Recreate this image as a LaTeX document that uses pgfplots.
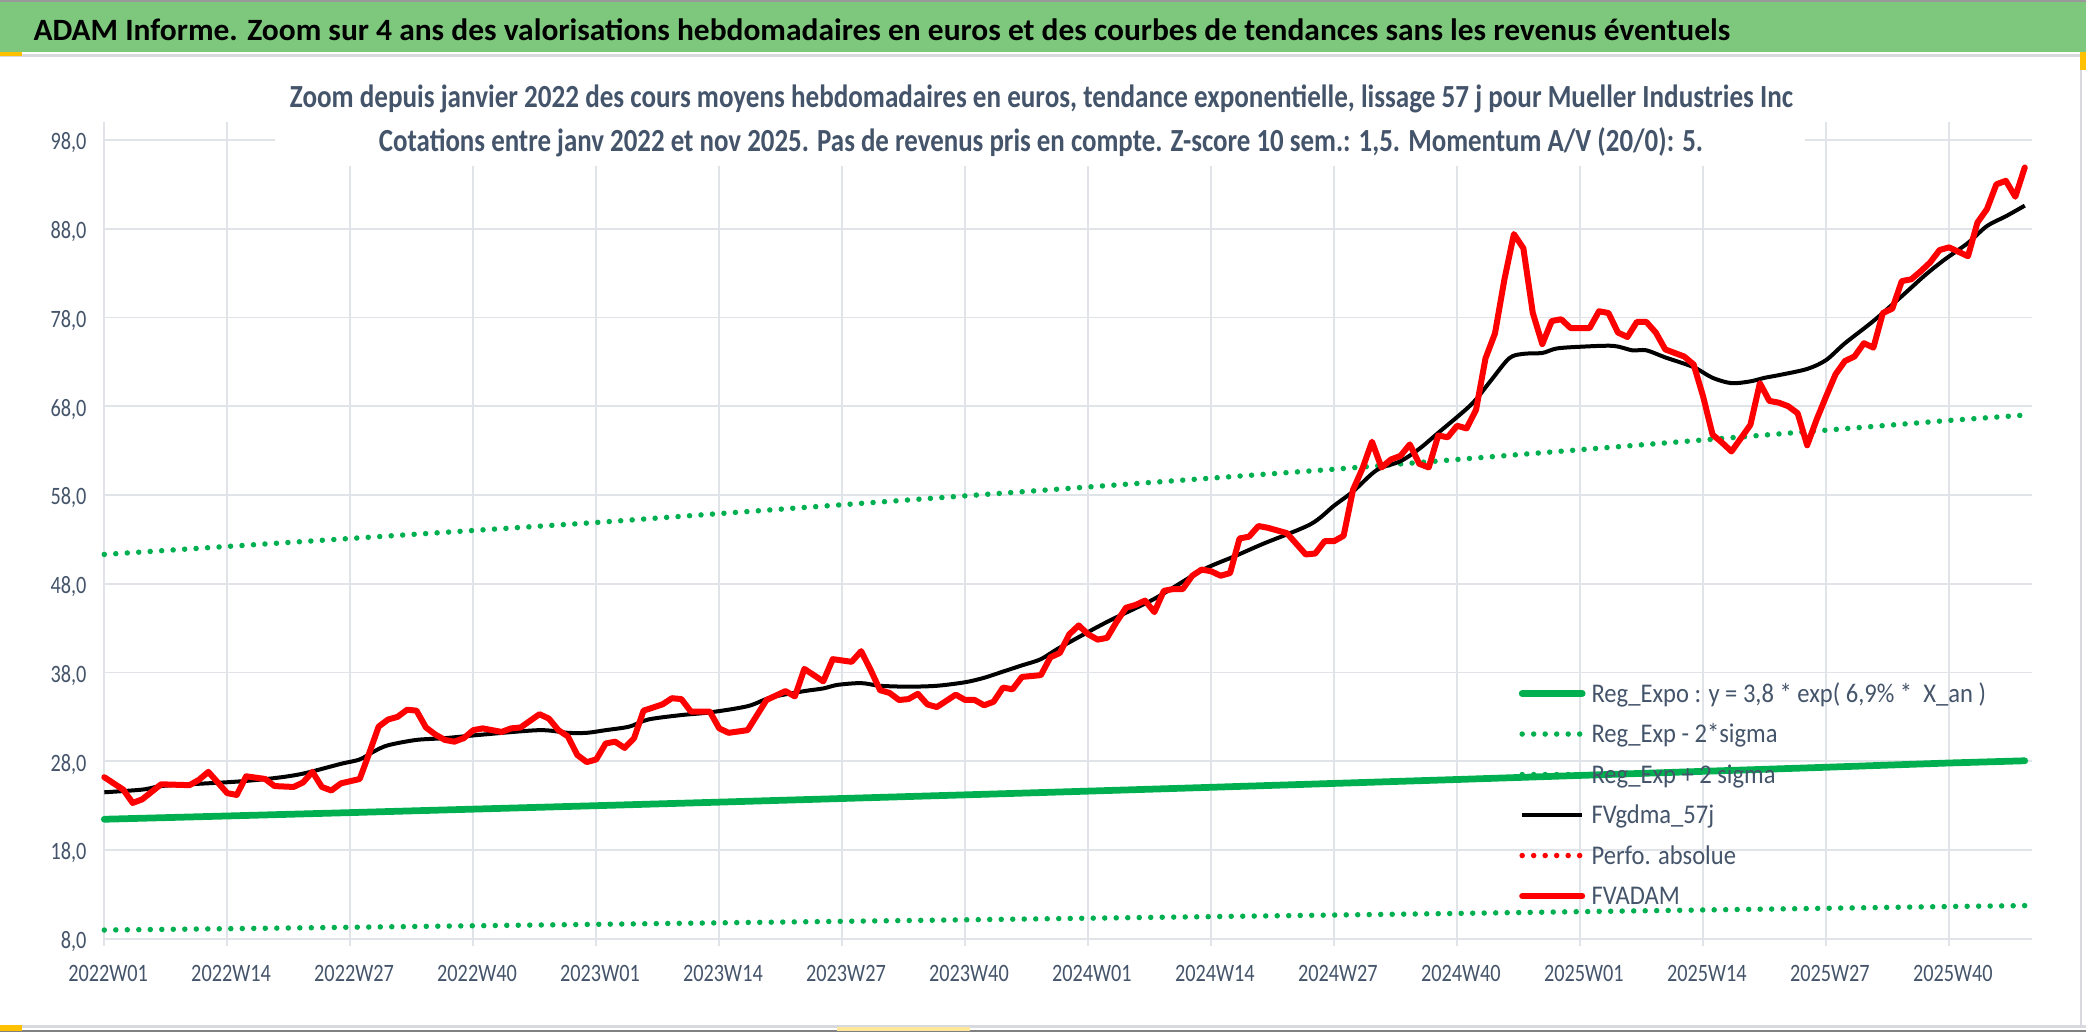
\documentclass[border=0pt]{standalone}
\usepackage{fontspec}
\setmainfont{Carlito}
\newfontfamily\tickfont[FakeStretch=0.81]{Carlito}
\newfontfamily\legfont[FakeStretch=0.91]{Carlito}
\usepackage{graphicx}
\usepackage{pgfplots}
\pgfplotsset{compat=1.18}
\usepackage{pgfplotstable}

\definecolor{band}{RGB}{126,200,126}
\definecolor{slate}{RGB}{68,84,106}
\definecolor{gridc}{RGB}{224,227,232}
\definecolor{xlgreen}{RGB}{0,176,80}
\definecolor{handle}{RGB}{255,192,0}
\definecolor{framec}{RGB}{215,217,222}

\pgfplotstableread{
x y
0 26.2
2 24.8
3 23.3
4 23.7
6 25.4
9 25.3
10 25.9
11 26.8
13 24.4
14 24.2
15 26.3
17 26.0
18 25.2
20 25.1
21 25.6
22 26.8
23 25.1
24 24.7
25 25.5
27 26.0
28 28.9
29 31.9
30 32.7
31 33.0
32 33.8
33 33.7
34 31.8
35 31.0
36 30.4
37 30.2
38 30.6
39 31.5
40 31.7
42 31.3
43 31.7
44 31.8
46 33.3
47 32.8
48 31.5
49 30.8
50 28.7
51 27.9
52 28.2
53 30.0
54 30.2
55 29.5
56 30.6
57 33.7
59 34.4
60 35.1
61 35.0
62 33.6
64 33.6
65 31.7
66 31.2
68 31.5
70 34.9
72 35.9
73 35.3
74 38.4
76 37.0
77 39.5
79 39.2
80 40.4
81 38.3
82 36.0
83 35.7
84 34.9
85 35.0
86 35.6
87 34.4
88 34.1
90 35.5
91 34.9
92 34.9
93 34.3
94 34.7
95 36.3
96 36.1
97 37.5
99 37.7
100 39.7
101 40.2
102 42.3
103 43.3
104 42.3
105 41.7
106 41.9
107 43.7
108 45.3
109 45.6
110 46.1
111 44.8
112 47.2
113 47.4
114 47.4
115 48.9
116 49.6
117 49.4
118 48.9
119 49.2
120 53.1
121 53.3
122 54.5
123 54.3
125 53.7
126 52.5
127 51.3
128 51.4
129 52.8
130 52.8
131 53.4
132 58.6
133 61.0
134 64.0
135 61.1
136 62.0
137 62.4
138 63.7
139 61.5
140 61.1
141 64.7
142 64.5
143 65.8
144 65.5
145 67.6
146 73.4
147 76.2
148 82.3
149 87.4
150 85.8
151 78.5
152 75.0
153 77.6
154 77.8
155 76.8
157 76.8
158 78.7
159 78.5
160 76.3
161 75.8
162 77.5
163 77.5
164 76.3
165 74.4
167 73.6
168 72.7
169 69.1
170 64.8
171 63.9
172 62.9
174 65.9
175 70.6
176 68.6
177 68.4
178 68.0
179 67.2
180 63.6
181 66.5
182 69.1
183 71.6
184 73.1
185 73.6
186 75.1
187 74.6
188 78.5
189 79.0
190 82.1
191 82.3
192 83.2
193 84.2
194 85.6
195 85.9
196 85.4
197 84.9
198 88.7
199 90.2
200 93.0
201 93.4
202 91.6
203 94.9
}\fvadam

\pgfplotstableread{
x y
0 24.5
4 24.8
6 25.2
9 25.4
14 25.7
18 26.1
21 26.6
25 27.7
27 28.2
28.5 29.1
30 29.8
33 30.4
36 30.6
40 31.0
46 31.5
49 31.2
51 31.2
53 31.5
55.5 31.9
57.5 32.7
61 33.2
64 33.5
68 34.2
70.5 35.2
74 35.9
76 36.2
77.5 36.6
80 36.8
82 36.5
85 36.4
88 36.5
91 36.9
93 37.4
95 38.1
97 38.8
99 39.5
101 40.8
106 43.7
111 46.3
116 49.5
119.5 51.1
122.5 52.5
127.5 54.7
130 56.8
132 58.4
134.5 60.8
137 61.8
139 63.2
141 65.0
144.5 68.2
146.5 70.8
148.5 73.4
150 73.9
152 74.0
153.5 74.5
156 74.7
159.5 74.8
161.5 74.3
163 74.3
165 73.5
168 72.4
170 71.2
172 70.6
174 70.8
175.5 71.2
177 71.5
180 72.2
182 73.2
184 75.1
187 77.6
190 80.4
192.5 82.8
194.5 84.5
197 86.4
199 88.3
201 89.4
203 90.6
}\fvgdma

\pgfplotstableread{
x reg up lo
0 21.46 51.3 8.98
13 21.83 52.2 9.13
26 22.21 53.1 9.29
39 22.60 54.0 9.46
52 22.99 54.9 9.62
65 23.39 55.9 9.79
78 23.80 56.9 9.96
91 24.21 57.9 10.13
104 24.63 58.9 10.31
117 25.06 59.9 10.49
130 25.50 60.9 10.67
143 25.94 62.0 10.85
156 26.40 63.1 11.05
169 26.86 64.2 11.24
182 27.32 65.3 11.43
195 27.80 66.4 11.63
203 28.05 67.0 11.73
}\trend

\begin{document}
\begin{tikzpicture}
\path[use as bounding box] (0,0) rectangle (834.4pt,-412.4pt);
\begin{scope}[x=0.4pt,y=-0.4pt]
  \fill[white] (0,0) rectangle (2086,1031);
  \fill[band] (0,1.5) rectangle (2086,52);
  \draw[gray!80, line width=0.8pt] (0,0.5) -- (2086,0.5);
  \draw[framec, line width=1.2pt] (0,55.5) -- (2086,55.5);
  \draw[framec, line width=1pt] (2081,56) -- (2081,1026);
  \draw[framec, line width=1.2pt] (0,1026) -- (2086,1026);
  \draw[gray, line width=0.8pt] (0,1030.5) -- (2086,1030.5);
  \fill[handle] (0,52) rectangle (22,55.5);
  \fill[handle] (2080,52) rectangle (2086,70);
  \fill[handle] (0,1025) rectangle (22,1031);
  \fill[handle!40] (837,1027) rectangle (970,1031);
  \node[anchor=base west, inner sep=0pt] at (33,40)
    {\resizebox{678.7pt}{\height}{\bfseries\fontsize{12.4}{14}\selectfont ADAM Informe. Zoom sur 4 ans des valorisations hebdomadaires en euros et des courbes de tendances sans les revenus éventuels}};
\end{scope}

\begin{axis}[
  at={(41.72pt,-375.48pt)}, anchor=south west,
  scale only axis, width=771.2pt, height=326.6pt,
  xmin=0, xmax=203.8, ymin=8, ymax=100,
  xtick={0,13,...,195},
  xticklabels={2022W01,2022W14,2022W27,2022W40,2023W01,2023W14,2023W27,2023W40,2024W01,2024W14,2024W27,2024W40,2025W01,2025W14,2025W27,2025W40},
  ytick={8,18,...,98},
  yticklabel={\pgfmathprintnumber[fixed,fixed zerofill,precision=1,use comma]{\tick}},
  /pgf/number format/assume math mode=true,
  grid=major, grid style={gridc, line width=0.7pt},
  axis line style={draw=none},
  tick pos=left, tick align=outside,
  major tick length=2.8pt,
  xtick style={gridc, line width=0.7pt},
  ytick style={draw=none},
  ticklabel style={font=\tickfont\fontsize{10}{12}\selectfont, text=slate},
  yticklabel style={xshift=-0.8pt, yshift=-1.2pt},
  xticklabel style={yshift=-4.2pt, xshift=1.5pt},
  clip=false,
  legend style={at={(0.7334,0.3257)}, anchor=north west, draw=none, fill=none,
    font=\legfont\fontsize{10.8}{12}\selectfont, text=slate, inner sep=0pt, row sep=0pt,
    nodes={inner sep=0pt, text height=11.6pt, text depth=4.6pt}},
  legend cell align=left,
  legend image code/.code={\draw[#1] (0pt,0pt) -- (24pt,0pt);},
  /tikz/every odd column/.append style={column sep=2.4pt},
]
\addplot[xlgreen, line width=2.7pt, line cap=round] table[x=x,y=reg] {\trend};
\addlegendentry{Reg\_Expo : y = 3,8 * exp( 6,9\% *~~X\_an )}
\addplot[xlgreen, line width=2.2pt, line cap=round, dash pattern=on 0pt off 4.6pt] table[x=x,y=up] {\trend};
\addlegendentry{Reg\_Exp - 2*sigma}
\addplot[xlgreen, line width=2.2pt, line cap=round, dash pattern=on 0pt off 4.6pt] table[x=x,y=lo] {\trend};
\addlegendentry{Reg\_Exp + 2 sigma}
\addplot[black, line width=1.6pt, smooth, line join=round] table[x=x,y=y] {\fvgdma};
\addlegendentry{FVgdma\_57j}
\addlegendimage{red, line width=2.2pt, line cap=round, dash pattern=on 0pt off 4.6pt}
\addlegendentry{Perfo. absolue}
\addplot[red, line width=2.4pt, line join=round, line cap=round] table[x=x,y=y] {\fvadam};
\addlegendentry{FVADAM}
\end{axis}

\begin{scope}[x=0.4pt,y=-0.4pt]
  \fill[white] (275,58) rectangle (1805,166);
  \node[anchor=base, inner sep=0pt, text=slate] at (1041.5,107.3)
    {\resizebox{601.2pt}{\height}{\bfseries\fontsize{12.9}{14}\selectfont Zoom depuis janvier 2022 des cours moyens hebdomadaires en euros, tendance exponentielle, lissage 57 j pour Mueller Industries Inc}};
  \node[anchor=base, inner sep=0pt, text=slate] at (1041,151.7)
    {\resizebox{529.6pt}{\height}{\bfseries\fontsize{12.9}{14}\selectfont Cotations entre janv 2022 et nov 2025. Pas de revenus pris en compte. Z-score 10 sem.: 1,5. Momentum A/V (20/0): 5.}};
\end{scope}
\end{tikzpicture}
\end{document}
